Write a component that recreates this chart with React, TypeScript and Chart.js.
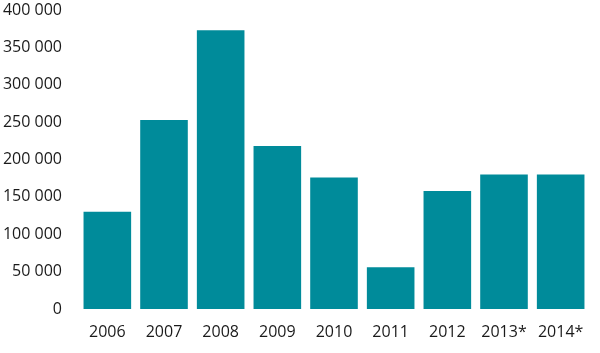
import React, { useEffect, useRef } from "react";
import { Chart, registerables } from "chart.js";

Chart.register(...registerables);

const categories = ["2006", "2007", "2008", "2009", "2010", "2011", "2012", "2013*", "2014*"];
const values = [130000, 253000, 373000, 218000, 176000, 56000, 158000, 180000, 180000];

const fmt = (v: number) => String(v).replace(/\B(?=(\d{3})+(?!\d))/g, " ");

export default function App() {
  const ref = useRef<HTMLCanvasElement | null>(null);
  useEffect(() => {
    if (!ref.current) return;
    const chart = new Chart(ref.current, {
      type: "bar",
      data: {
        labels: categories,
        datasets: [
          {
            data: values,
            backgroundColor: "#008b9a",
            categoryPercentage: 1,
            barPercentage: 0.84,
          },
        ],
      },
      options: {
        animation: false,
        responsive: false,
        maintainAspectRatio: false,
        layout: { padding: { left: 0, right: 11, top: 0, bottom: 0 } },
        plugins: { legend: { display: false }, tooltip: { enabled: false } },
        scales: {
          x: {
            grid: { display: false, drawTicks: false },
            border: { display: false },
            afterFit: (s: any) => {
              s.height = 44;
            },
            ticks: {
              color: "#1a1a1a",
              font: { family: "Open Sans", size: 16 },
              padding: 14,
              maxRotation: 0,
            },
          },
          y: {
            min: 0,
            max: 400000,
            grid: { display: false, drawTicks: false },
            border: { display: false },
            afterFit: (s: any) => {
              s.width = 79;
              s.paddingTop = 10;
              s.paddingBottom = 0;
            },
            ticks: {
              stepSize: 50000,
              color: "#1a1a1a",
              font: { family: "Open Sans", size: 16 },
              padding: 17,
              callback: (v: any) => fmt(Number(v)),
            },
          },
        },
      },
    });
    return () => chart.destroy();
  }, []);
  return (
    <div style={{ position: "fixed", left: 0, top: 0, width: 600, height: 353, background: "#fff" }}>
      <canvas ref={ref} width={600} height={353} style={{ width: 600, height: 353 }} />
    </div>
  );
}
